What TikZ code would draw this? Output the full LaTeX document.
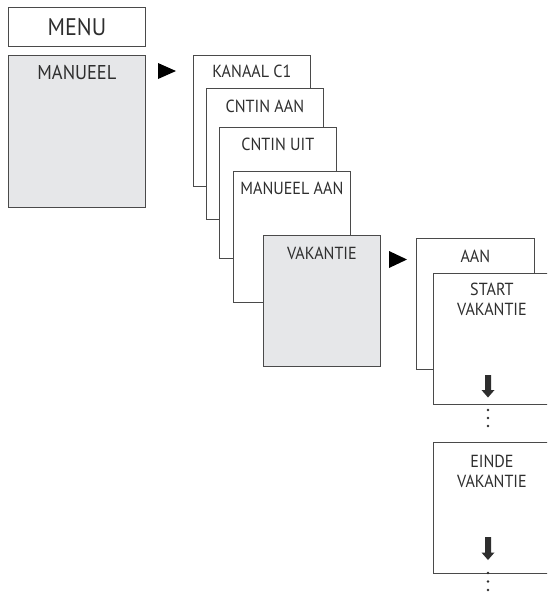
\documentclass[tikz,border=0pt]{standalone}
\usepackage{fontspec}
\setmainfont{PT Sans}[FakeStretch=0.92]
\definecolor{edge}{HTML}{4A4A4A}
\definecolor{panel}{HTML}{E6E7E9}
\definecolor{ink}{HTML}{2E2E2E}
\begin{document}
\begin{tikzpicture}[x=1pt,y=-1pt,
  box/.style={draw=edge, line width=0.8pt, fill=white, anchor=north west,
    minimum width=117pt, minimum height=131pt, inner sep=0pt},
  greybox/.style={box, fill=panel},
  bigbox/.style={box, minimum width=137pt},
  lbl/.style={anchor=north, inner sep=0pt, text=ink, align=center,
    font=\fontsize{17.5}{20}\selectfont},
  tri/.style={fill=black},
  darrow/.style={fill=ink},
  dot/.style={fill=ink}
]
\useasboundingbox (0,0) rectangle (547,592);
\begin{scope}
\clip (0,0) rectangle (547,592);
% left column
\node[bigbox, minimum height=39pt] (menu) at (8,7) {};
\node[text=ink, inner sep=0pt, font=\fontsize{24}{28}\selectfont] (menut) at (menu.center) {MENU};
\node[bigbox, fill=panel, minimum height=152pt] (man) at (8,55) {};
\node[lbl, font=\fontsize{20}{24}\selectfont] (mant) at ([yshift=-10pt]man.north) {MANUEEL};
% first arrow
\fill[tri] (158,63) -- (176,71) -- (158,79) -- cycle;
% stack
\node[box] (kan) at (193,55) {};
\node[lbl] (kant) at ([yshift=-10pt]kan.north) {KANAAL C1};
\node[box] (caan) at (206,88) {};
\node[lbl] (caant) at ([yshift=-12pt]caan.north) {CNTIN AAN};
\node[box] (cuit) at (219,127) {};
\node[lbl] (cuitt) at ([yshift=-11pt]cuit.north) {CNTIN UIT};
\node[box] (maan) at (233,171) {};
\node[lbl] (maant) at ([yshift=-11pt]maan.north) {MANUEEL AAN};
\node[greybox] (vak) at (263,235) {};
\node[lbl] (vakt) at ([yshift=-12pt]vak.north) {VAKANTIE};
% second arrow
\fill[tri] (389,251) -- (407,259.5) -- (389,268) -- cycle;
% right column
\node[box, minimum width=118pt] (aan) at (416,238) {};
\node[lbl] (aant) at ([yshift=-12pt]aan.north) {AAN};
\node[box] (start) at (433,273) {};
\node[lbl] (startt) at ([yshift=-10pt]start.north) {START\\VAKANTIE};
\node[box] (einde) at (433,442) {};
\node[lbl] (eindet) at ([yshift=-13pt]einde.north) {EINDE\\VAKANTIE};
% down arrows
\fill[darrow] (485,375) -- (491,375) -- (491,390) -- (494.5,390) -- (488,397.5) -- (481.5,390) -- (485,390) -- cycle;
\fill[darrow] (485,537) -- (491,537) -- (491,552.5) -- (494.5,552.5) -- (488,560) -- (481.5,552.5) -- (485,552.5) -- cycle;
% dots
\foreach \yy in {410,418,426} \fill[dot] (488,\yy) circle (1.3pt);
\foreach \yy in {573,581.5,590} \fill[dot] (488,\yy) circle (1.3pt);
\end{scope}
\end{tikzpicture}
\end{document}
